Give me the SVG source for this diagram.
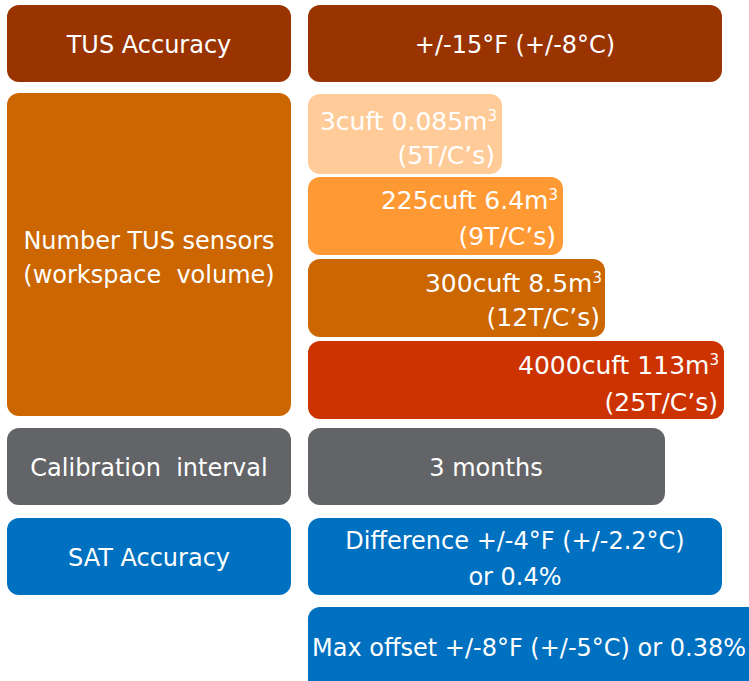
<svg xmlns="http://www.w3.org/2000/svg" width="749" height="681" viewBox="0 0 749 681">
<style>
text{font-family:"DejaVu Sans","Liberation Sans",sans-serif;font-size:24px;fill:#ffffff;white-space:pre}
.c{text-anchor:middle}
.e{text-anchor:end;font-size:25px}
.sup{font-size:15px}
.brown{fill:#993300}
.orange{fill:#CC6600}
.light{fill:#FFCC99}
.mid{fill:#FF9933}
.red{fill:#CC3300}
.gray{fill:#636468}
.blue{fill:#0070C0}
</style>
<rect width="749" height="681" fill="#ffffff"/>
<g id="tus-accuracy-label"><rect class="brown" x="7" y="5" width="284" height="77" rx="12"/><text class="c" x="149" y="53">TUS Accuracy</text></g>
<g id="tus-accuracy-value"><rect class="brown" x="308" y="5" width="414" height="77" rx="12"/><text class="c" x="515" y="53">+/-15°F (+/-8°C)</text></g>
<g id="tus-sensors-label"><rect class="orange" x="7" y="93" width="284" height="323" rx="12"/><text class="c" x="149" y="249">Number TUS sensors</text><text class="c" x="149" y="283">(workspace  volume)</text></g>
<g id="sensors-3cuft"><rect class="light" x="308" y="94" width="194" height="80" rx="12"/><text class="e" x="497" y="130">3cuft 0.085m<tspan class="sup" dy="-9">3</tspan></text><text class="e" x="495" y="164">(5T/C’s)</text></g>
<g id="sensors-225cuft"><rect class="mid" x="308" y="177" width="255" height="78" rx="12"/><text class="e" x="558" y="209">225cuft 6.4m<tspan class="sup" dy="-9">3</tspan></text><text class="e" x="556" y="245">(9T/C’s)</text></g>
<g id="sensors-300cuft"><rect class="orange" x="308" y="259" width="297" height="78" rx="12"/><text class="e" x="602" y="292">300cuft 8.5m<tspan class="sup" dy="-9">3</tspan></text><text class="e" x="600" y="326">(12T/C’s)</text></g>
<g id="sensors-4000cuft"><rect class="red" x="308" y="341" width="416" height="78" rx="12"/><text class="e" x="719" y="374">4000cuft 113m<tspan class="sup" dy="-9">3</tspan></text><text class="e" x="718" y="411">(25T/C’s)</text></g>
<g id="calibration-label"><rect class="gray" x="7" y="428" width="284" height="77" rx="12"/><text class="c" x="149" y="476">Calibration  interval</text></g>
<g id="calibration-value"><rect class="gray" x="308" y="428" width="357" height="77" rx="12"/><text class="c" x="486" y="476">3 months</text></g>
<g id="sat-accuracy-label"><rect class="blue" x="7" y="518" width="284" height="77" rx="12"/><text class="c" x="149" y="566">SAT Accuracy</text></g>
<g id="sat-difference"><rect class="blue" x="308" y="518" width="414" height="77" rx="12"/><text class="c" x="515" y="549">Difference +/-4°F (+/-2.2°C)</text><text class="c" x="515" y="585">or 0.4%</text></g>
<g id="sat-max-offset"><rect class="blue" x="308" y="607" width="460" height="90" rx="12"/><text x="312" y="656">Max offset +/-8°F (+/-5°C) or 0.38%</text></g>
<g id="connectors"></g>
</svg>
